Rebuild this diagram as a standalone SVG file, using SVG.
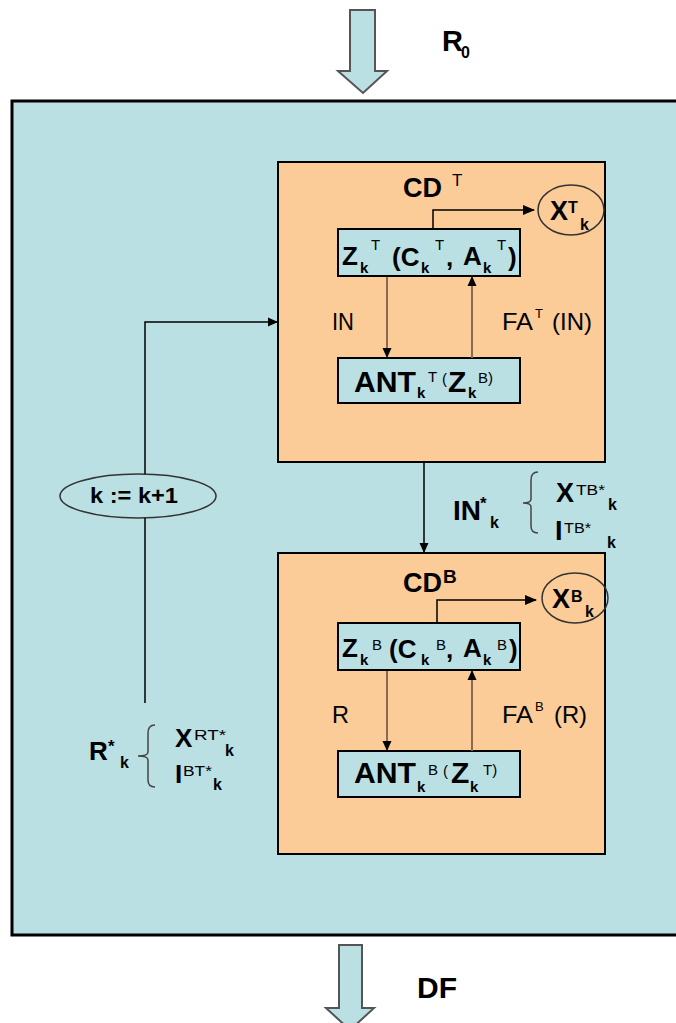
<svg xmlns="http://www.w3.org/2000/svg" width="676" height="1023" viewBox="0 0 676 1023">
<defs>
<style>
text{font-family:"Liberation Sans",Arial,sans-serif;font-weight:bold;fill:#000}
.m{font-size:26px}
.a{font-size:30px}
.sb{font-size:15px}
.sp{font-size:16px}
.lbl{font-size:24px;font-weight:normal}
.sl{font-size:13px;font-weight:normal}
.blue{fill:#BAE0E3}
.orange{fill:#FBCB98;stroke:#000;stroke-width:2}
.box{fill:#BAE0E3;stroke:#000;stroke-width:2}
.conn{fill:none;stroke:#000;stroke-width:1.5}
.brown{fill:none;stroke:#8B6A50;stroke-width:2}
.brace{fill:none;stroke:#444;stroke-width:1.5}
.ell{fill:none;stroke:#333;stroke-width:1.5}
</style>
<marker id="ah" markerWidth="12" markerHeight="10" refX="11" refY="5" orient="auto" markerUnits="userSpaceOnUse">
<path d="M0,0 L12,5 L0,10 z" fill="#000"/>
</marker>
<marker id="ahs" markerWidth="10" markerHeight="10" refX="9" refY="5" orient="auto" markerUnits="userSpaceOnUse">
<path d="M0,0.5 L10,5 L0,9.5 z" fill="#000"/>
</marker>
</defs>
<rect width="676" height="1023" fill="#fff"/>
<g id="outer">
<rect x="12" y="101" width="670" height="834" class="blue" stroke="#000" stroke-width="3"/>
</g>
<g id="arrow-in">
<path d="M350,10 L375,10 L375,71 L387,71 L363,93 L338,71 L350,71 z" fill="#BAE0E3" stroke="#555" stroke-width="2"/>
<text x="442" y="51" font-size="29">R</text>
<text x="461" y="58" font-size="16">0</text>
</g>
<g id="arrow-out">
<path d="M339,945 L362,945 L362,1008 L374,1008 L350,1030 L326,1008 L339,1008 z" fill="#BAE0E3" stroke="#555" stroke-width="2"/>
<text x="417" y="998" font-size="30" textLength="40" lengthAdjust="spacingAndGlyphs">DF</text>
</g>
<g id="CDT">
<rect x="278" y="162" width="327" height="300" class="orange"/>
<text x="403" y="197" font-size="27">CD</text>
<text x="452" y="186" font-size="17" style="font-weight:normal">T</text>
<text x="332" y="330" class="lbl" textLength="22" lengthAdjust="spacingAndGlyphs">IN</text>
<text x="502" y="330" class="lbl" textLength="31" lengthAdjust="spacingAndGlyphs">FA</text>
<text x="535" y="318" class="sl">T</text>
<text x="552" y="330" class="lbl" textLength="40" lengthAdjust="spacingAndGlyphs">(IN)</text>
</g>
<g id="ZT">
<rect x="338" y="229" width="182" height="47" class="box"/>
<text class="m"><tspan x="342" y="265">Z</tspan><tspan x="360" y="273" class="sb">k</tspan><tspan x="371" y="250" class="sb" style="font-weight:normal">T</tspan><tspan x="392" y="266">(C</tspan><tspan x="421" y="273" class="sb">k</tspan><tspan x="435" y="250" class="sb" style="font-weight:normal">T</tspan><tspan x="446" y="266">,</tspan><tspan x="463" y="265">A</tspan><tspan x="483" y="273" class="sb">k</tspan><tspan x="497" y="250" class="sb" style="font-weight:normal">T</tspan><tspan x="508" y="266">)</tspan></text>
</g>
<g id="ANTT">
<rect x="338" y="358" width="182" height="45" class="box"/>
<text class="a"><tspan x="354" y="392" textLength="62" lengthAdjust="spacingAndGlyphs">ANT</tspan><tspan x="417" y="398" class="sb">k</tspan><tspan x="428" y="382" class="sb" style="font-weight:normal">T</tspan><tspan x="442" y="384" class="sb" style="font-weight:normal">(</tspan><tspan x="448" y="392">Z</tspan><tspan x="468" y="398" class="sb">k</tspan><tspan x="478" y="383" class="sb" style="font-weight:normal">B)</tspan></text>
</g>
<g id="XT">
<ellipse cx="571" cy="210" rx="33" ry="25" class="ell"/>
<text x="550" y="220" font-size="27">X</text>
<text x="568" y="213" font-size="16">T</text>
<text x="580" y="230" font-size="16">k</text>
</g>
<g id="CDB">
<rect x="278" y="553" width="327" height="301" class="orange"/>
<text x="403" y="592" font-size="27">CD</text>
<text x="443" y="583" font-size="19">B</text>
<text x="332" y="723" class="lbl" textLength="17" lengthAdjust="spacingAndGlyphs">R</text>
<text x="502" y="723" class="lbl" textLength="31" lengthAdjust="spacingAndGlyphs">FA</text>
<text x="535" y="711" class="sl">B</text>
<text x="554" y="723" class="lbl" textLength="33" lengthAdjust="spacingAndGlyphs">(R)</text>
</g>
<g id="ZB">
<rect x="338" y="623" width="182" height="47" class="box"/>
<text class="m"><tspan x="342" y="657">Z</tspan><tspan x="360" y="665" class="sb">k</tspan><tspan x="372" y="650" class="sb" style="font-weight:normal">B</tspan><tspan x="389" y="658">(C</tspan><tspan x="421" y="665" class="sb">k</tspan><tspan x="436" y="650" class="sb" style="font-weight:normal">B</tspan><tspan x="446" y="658">,</tspan><tspan x="463" y="657">A</tspan><tspan x="483" y="665" class="sb">k</tspan><tspan x="497" y="650" class="sb" style="font-weight:normal">B</tspan><tspan x="509" y="658">)</tspan></text>
</g>
<g id="ANTB">
<rect x="338" y="751" width="182" height="46" class="box"/>
<text class="a"><tspan x="354" y="783" textLength="62" lengthAdjust="spacingAndGlyphs">ANT</tspan><tspan x="417" y="792" class="sb">k</tspan><tspan x="428" y="775" class="sb" style="font-weight:normal">B</tspan><tspan x="443" y="776" class="sb" style="font-weight:normal">(</tspan><tspan x="451" y="783">Z</tspan><tspan x="470" y="792" class="sb">k</tspan><tspan x="483" y="775" class="sb" style="font-weight:normal">T)</tspan></text>
</g>
<g id="XB">
<ellipse cx="575" cy="598" rx="33" ry="25" class="ell"/>
<text x="552" y="608" font-size="27">X</text>
<text x="571" y="602" font-size="16">B</text>
<text x="585" y="617" font-size="16">k</text>
</g>
<g id="kinc">
<ellipse cx="138" cy="496" rx="78" ry="22" fill="#BAE0E3" stroke="#333" stroke-width="1.5"/>
<text x="90" y="503" font-size="22" textLength="88" lengthAdjust="spacingAndGlyphs">k := k+1</text>
</g>
<g id="INstar">
<text x="453" y="520" font-size="28">IN</text>
<text x="480" y="509" font-size="17">*</text>
<text x="490" y="528" font-size="16">k</text>
<path class="brace" d="M538,472 Q531,472 531,480 L531,499 Q531,503 523,503 Q531,503 531,507 L531,526 Q531,533 538,533"/>
<text x="556" y="502" font-size="27">X</text>
<text x="576" y="495" font-size="15" style="font-weight:normal" textLength="29" lengthAdjust="spacingAndGlyphs">TB*</text>
<text x="608" y="510" font-size="16">k</text>
<text x="555" y="540" font-size="27">I</text>
<text x="564" y="533" font-size="15" style="font-weight:normal" textLength="27" lengthAdjust="spacingAndGlyphs">TB*</text>
<text x="607" y="548" font-size="16">k</text>
</g>
<g id="Rstar">
<text x="89" y="760" font-size="26">R</text>
<text x="108" y="752" font-size="17">*</text>
<text x="120" y="768" font-size="16">k</text>
<path class="brace" d="M155,725 Q148,725 148,733 L148,752 Q148,756 138,756 Q148,756 148,760 L148,780 Q148,787 155,787"/>
<text x="175" y="747" font-size="26">X</text>
<text x="194" y="740" font-size="15" style="font-weight:normal" textLength="32" lengthAdjust="spacingAndGlyphs">RT*</text>
<text x="225" y="756" font-size="16">k</text>
<text x="175" y="783" font-size="26">I</text>
<text x="183" y="776" font-size="15" style="font-weight:normal" textLength="29" lengthAdjust="spacingAndGlyphs">BT*</text>
<text x="213" y="790" font-size="16">k</text>
</g>
<g id="connectors">
<path class="conn" d="M145,703 L145,518"/>
<path class="conn" d="M145,474 L145,322 L277,322" marker-end="url(#ahs)"/>
<path class="conn" d="M424,463 L424,552" marker-end="url(#ahs)"/>
<path class="conn" d="M433,228 L433,210 L534,210" marker-end="url(#ah)"/>
<path class="conn" d="M437,622 L437,600 L536,600" marker-end="url(#ah)"/>
<path class="brown" d="M387,277 L387,357" marker-end="url(#ahs)"/>
<path class="brown" d="M472,358 L472,277" marker-end="url(#ahs)"/>
<path class="brown" d="M387,671 L387,750" marker-end="url(#ahs)"/>
<path class="brown" d="M472,751 L472,671" marker-end="url(#ahs)"/>
</g>
</svg>
